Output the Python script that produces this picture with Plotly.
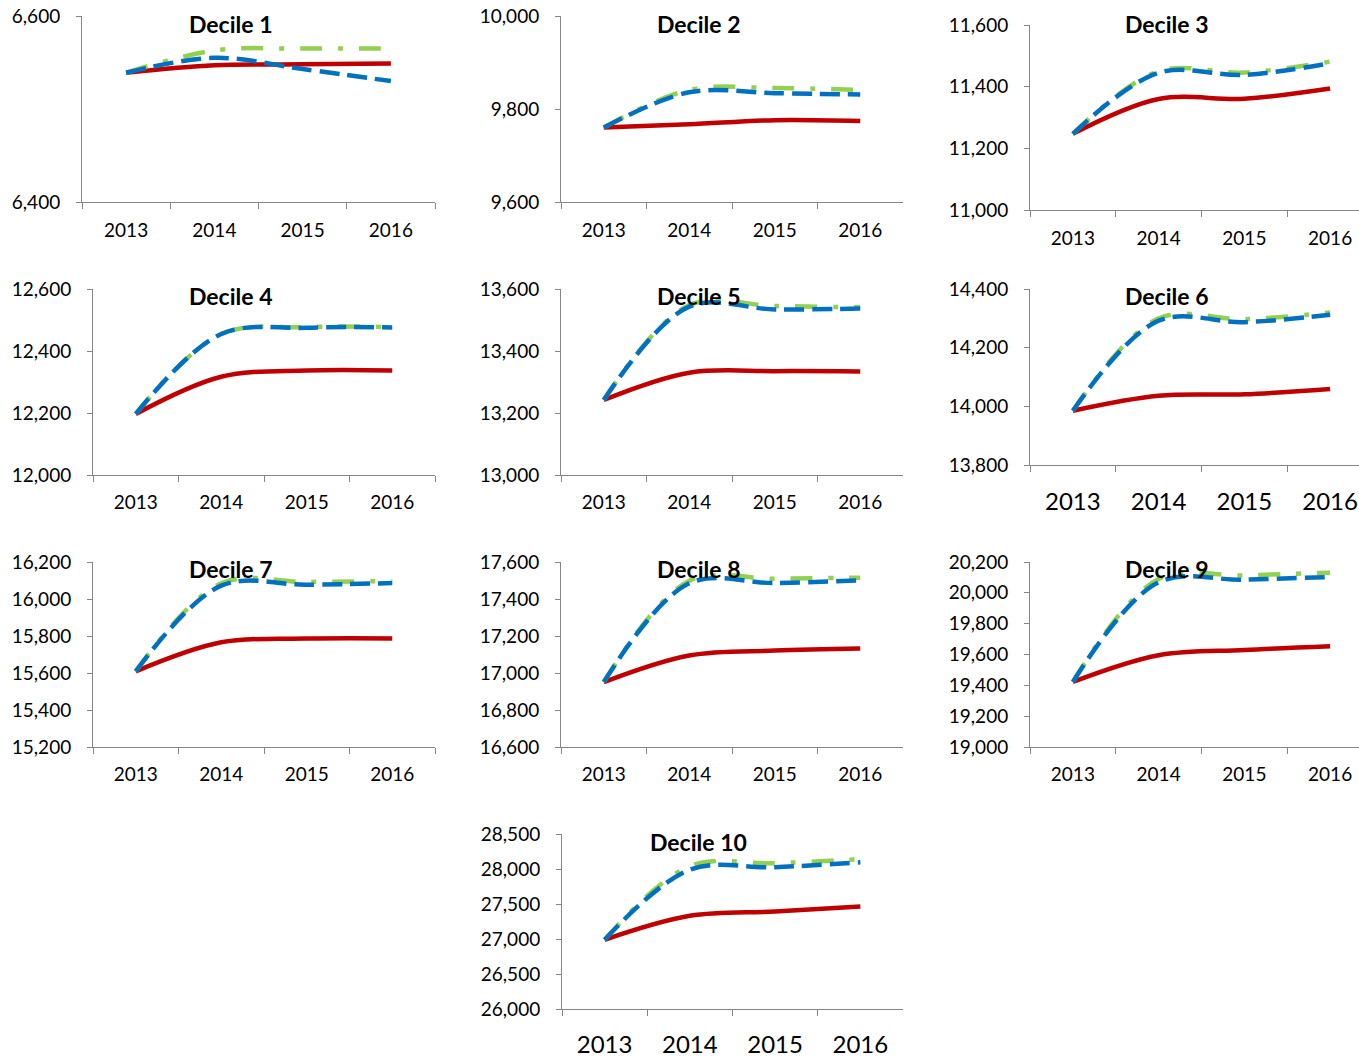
import plotly.graph_objects as go

W, H = 1359, 1058

years = ["2013", "2014", "2015", "2016"]
titles = ["Decile 1", "Decile 2", "Decile 3", "Decile 4", "Decile 5",
          "Decile 6", "Decile 7", "Decile 8", "Decile 9", "Decile 10"]

red_series = [
    [6539, 6547, 6548, 6549],
    [9760, 9767, 9776, 9774],
    [11247, 11360, 11361, 11394],
    [12197, 12317, 12337, 12337],
    [13242, 13330, 13335, 13334],
    [13985, 14036, 14041, 14059],
    [15609, 15766, 15786, 15787],
    [16951, 17095, 17121, 17132],
    [19422, 19595, 19629, 19653],
    [26989, 27331, 27393, 27464],
]
green_series = [
    [6539, 6563, 6565, 6565],
    [9760, 9841, 9845, 9841],
    [11247, 11450, 11446, 11481],
    [12197, 12455, 12477, 12477],
    [13242, 13548, 13545, 13541],
    [13985, 14300, 14297, 14320],
    [15609, 16085, 16092, 16097],
    [16951, 17498, 17510, 17515],
    [19422, 20090, 20113, 20131],
    [26989, 28040, 28082, 28139],
]
blue_series = [
    [6539, 6555, 6543, 6530],
    [9760, 9836, 9834, 9831],
    [11247, 11445, 11438, 11476],
    [12197, 12455, 12475, 12476],
    [13242, 13543, 13534, 13537],
    [13985, 14292, 14287, 14312],
    [15609, 16072, 16077, 16086],
    [16951, 17485, 17486, 17501],
    [19422, 20068, 20085, 20103],
    [26989, 27990, 28025, 28096],
]
y_ranges = [
    [6400, 6600], [9600, 10000], [11000, 11600],
    [12000, 12600], [13000, 13600], [13800, 14400],
    [15200, 16200], [16600, 17600], [19000, 20200],
    [26000, 28500],
]
y_dticks = [200, 200, 200, 200, 200, 200, 200, 200, 200, 500]

# panel plot areas in pixels: x0, x1 (full category span), ytop, ybottom
panels = [
    (82, 435, 16, 202), (561, 903, 16, 202), (1030, 1373, 25, 210),
    (93, 435, 289, 475), (561, 903, 289, 475), (1030, 1373, 289, 465),
    (93, 435, 562, 747), (561, 903, 562, 747), (1030, 1373, 562, 747),
    (562, 903, 834, 1009),
]
title_pos = [
    (230, 24), (698, 24), (1166, 24),
    (230, 296), (698, 296), (1166, 296),
    (230, 569), (698, 569), (1166, 569),
    (698, 842),
]
xfont_sizes = [19, 19, 19, 19, 19, 24, 19, 19, 19, 24]
x_standoffs = [11, 11, 11, 10, 10, 15, 10, 10, 10, 14]

RED = "#C00000"
GREEN = "#92D050"
BLUE = "#0070C0"
AXIS = "#868686"
FONT = "Lato"


def px_x(p):
    return p / W


def px_y(p):
    return 1 - p / H


fig = go.Figure()
layout = dict(
    template="none",
    width=W, height=H,
    margin=dict(l=0, r=0, t=0, b=0, pad=0),
    paper_bgcolor="white", plot_bgcolor="white",
    showlegend=False,
    font=dict(family=FONT, size=19, color="#000000"),
    annotations=[],
)

for i in range(10):
    n = "" if i == 0 else str(i + 1)
    xa, ya = "x" + n, "y" + n
    x0, x1, yt, yb = panels[i]
    # panels that run past the right edge of the picture are cut off there
    x1_vis = min(x1, W)
    cat_w = (x1 - x0) / 4.0
    x_hi = -0.5 + (x1_vis - x0) / cat_w

    common = dict(x=years, xaxis=xa, yaxis=ya, mode="lines", hoverinfo="skip")
    fig.add_trace(go.Scatter(y=red_series[i], line=dict(color=RED, width=4.5, shape="spline"), **common))
    fig.add_trace(go.Scatter(y=green_series[i], line=dict(color=GREEN, width=4.5, shape="spline", dash="22px,16px,5px,16px"), **common))
    fig.add_trace(go.Scatter(y=blue_series[i], line=dict(color=BLUE, width=4.5, shape="spline", dash="20px,8px"), **common))

    layout["xaxis" + n] = dict(
        domain=[px_x(x0), px_x(x1_vis)], anchor=ya, type="category",
        range=[-0.5, x_hi], tickson="boundaries", ticks="outside", ticklen=6,
        tickcolor=AXIS, showline=True, linecolor=AXIS, linewidth=1,
        showgrid=False, zeroline=False, fixedrange=True, automargin=False,
        tickfont=dict(family=FONT, size=xfont_sizes[i], color="#000000"),
        ticklabelstandoff=x_standoffs[i], ticklabeloverflow="allow",
    )
    layout["yaxis" + n] = dict(
        domain=[px_y(yb), px_y(yt)], anchor=xa,
        range=y_ranges[i], dtick=y_dticks[i], tick0=y_ranges[i][0],
        tickformat=",d", ticks="outside", ticklen=5, tickcolor=AXIS,
        showline=True, linecolor=AXIS, linewidth=1,
        showgrid=False, zeroline=False, fixedrange=True, automargin=False,
        tickfont=dict(family=FONT, size=19, color="#000000"),
        ticklabelstandoff=12, ticklabeloverflow="allow",
    )
    cx, cy = title_pos[i]
    layout["annotations"].append(dict(
        text="<b>" + titles[i] + "</b>", xref="paper", yref="paper",
        x=px_x(cx), y=px_y(cy), xanchor="center", yanchor="middle",
        showarrow=False, font=dict(family=FONT, size=23, color="#000000"),
    ))

fig.update_layout(**layout)
fig.write_html(
    "out.html",
    config={"displayModeBar": False},
    post_script="document.body.style.margin='0px';document.body.style.overflow='hidden';",
)
